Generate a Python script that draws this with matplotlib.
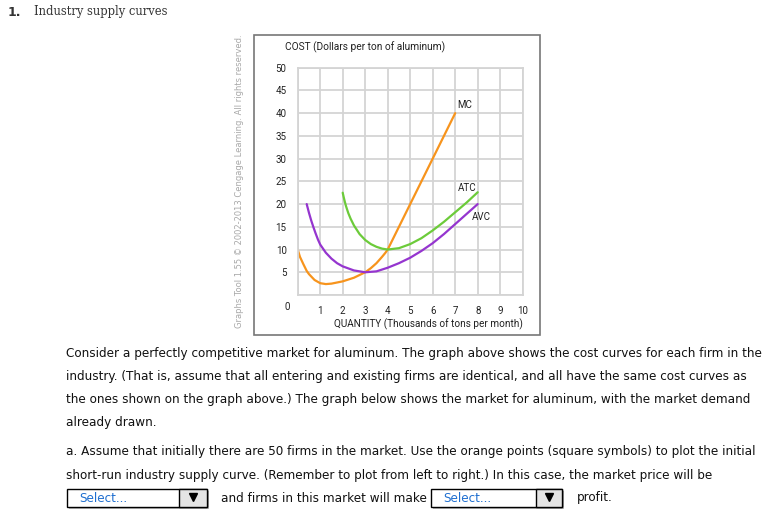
import matplotlib.pyplot as plt
from matplotlib.patches import Rectangle

W, H = 773, 532

# cost curves (quantity in thousands of tons, cost in dollars)
mc_q = [0, 0.1, 0.25, 0.4, 0.5, 0.75, 1, 1.25, 1.5, 2, 2.5, 3, 3.25, 3.5, 3.75, 3.9, 4, 4.5, 5, 6, 7]
mc_c = [10, 8.4, 6.8, 5.3, 4.6, 3.3, 2.6, 2.4, 2.5, 3.0, 3.8, 5.0, 5.9, 7.0, 8.4, 9.3, 10, 15, 20, 30, 40]

atc_q = [2, 2.05, 2.1, 2.15, 2.25, 2.35, 2.5, 2.75, 3, 3.25, 3.5, 3.75, 4, 4.5, 5, 5.5, 6, 6.5, 7, 7.5, 8]
atc_c = [22.5, 21.4, 20.4, 19.5, 18, 16.8, 15.3, 13.4, 12.1, 11.2, 10.6, 10.2, 10, 10.3, 11.2, 12.5, 14.2,
         16.1, 18.2, 20.3, 22.6]

avc_q = [0.4, 0.5, 0.6, 0.7, 0.8, 0.9, 1, 1.25, 1.5, 1.75, 2, 2.5, 3, 3.5, 4, 4.5, 5, 5.5, 6, 6.5, 7, 7.5, 8]
avc_c = [20, 18.1, 16.4, 14.9, 13.5, 12.2, 11.1, 9.3, 8, 7, 6.3, 5.4, 5, 5.2, 6, 7, 8.2, 9.7, 11.4, 13.4,
         15.6, 17.8, 20]

x_ticks = [1, 2, 3, 4, 5, 6, 7, 8, 9, 10]
y_ticks = [5, 10, 15, 20, 25, 30, 35, 40, 45, 50]

body_lines = [
    "Consider a perfectly competitive market for aluminum. The graph above shows the cost curves for each firm in the",
    "industry. (That is, assume that all entering and existing firms are identical, and all have the same cost curves as",
    "the ones shown on the graph above.) The graph below shows the market for aluminum, with the market demand",
    "already drawn.",
]
part_a_lines = [
    "a. Assume that initially there are 50 firms in the market. Use the orange points (square symbols) to plot the initial",
    "short-run industry supply curve. (Remember to plot from left to right.) In this case, the market price will be",
]

ORANGE = '#F7941D'
GREEN = '#6CCB3A'
PURPLE = '#9535CF'
GRID = '#D4D4D4'
TEXT = '#333333'
FS = 8.62

fig = plt.figure(figsize=(W / 100, H / 100), dpi=100)

# page layer in pixel coordinates
page = fig.add_axes([0, 0, 1, 1])
page.set_xlim(0, W)
page.set_ylim(H, 0)
page.axis('off')

page.text(8, 12, "1.", fontsize=9, fontweight='bold', family='DejaVu Sans', color=TEXT, va='center')
page.text(34, 12, "Industry supply curves", fontsize=8.3, family='DejaVu Serif', color=TEXT, va='center')

# frame around the graph
page.add_patch(Rectangle((254, 35), 286, 300, fill=False, edgecolor='#777777', linewidth=1.2))
page.text(240, 181, "Graphs Tool 1.55 \u00a9 2002-2013 Cengage Learning. All rights reserved.",
          rotation=90, fontsize=6.0, color='#A8A8A8', ha='center', va='center', family='DejaVu Sans')

page.text(285, 47, "COST (Dollars per ton of aluminum)", fontsize=7.3, family='Roboto', color='#222222', va='center')
page.text(523, 324, "QUANTITY (Thousands of tons per month)", fontsize=7.2, family='Roboto', color='#222222',
          va='center', ha='right')
page.text(287, 307, "0", fontsize=7, family='Roboto', color='#222222', va='center', ha='center')

for i, line in enumerate(body_lines):
    page.text(66, 354 + i * 22.7, line, fontsize=FS, family='DejaVu Sans', color='#111111', va='center')
for i, line in enumerate(part_a_lines):
    page.text(66, 452 + i * 23, line, fontsize=FS, family='DejaVu Sans', color='#111111', va='center')


def select_box(x0, x1, xd):
    page.add_patch(Rectangle((x0 + 2, 491), x1 - x0, 18, color='#BBBBBB', linewidth=0))
    page.add_patch(Rectangle((x0, 489), x1 - x0, 18, facecolor='white', edgecolor='black', linewidth=1))
    page.add_patch(Rectangle((xd, 489), x1 - xd, 18, facecolor='#E4E4E4', edgecolor='black', linewidth=1))
    page.plot([(xd + x1) / 2], [497], marker='v', color='black', markersize=6)
    page.text(x0 + 12, 498, "Select...", fontsize=FS, family='DejaVu Sans', color='#1F6FD0', va='center')


select_box(67, 207, 179)
select_box(431, 562, 536)
page.text(221, 498, "and firms in this market will make", fontsize=FS, family='DejaVu Sans',
          color='#111111', va='center')
page.text(577, 498, "profit.", fontsize=FS, family='DejaVu Sans', color='#111111', va='center')

# cost curve graph
left, right, top, bottom = 297.7, 522.7, 67.7, 295
ax = fig.add_axes([left / W, (H - bottom) / H, (right - left) / W, (bottom - top) / H])
ax.set_xlim(0, 10)
ax.set_ylim(0, 50)
ax.set_xticks([0] + x_ticks)
ax.set_xticklabels([''] + [str(t) for t in x_ticks])
ax.set_yticks([0] + y_ticks)
ax.set_yticklabels([''] + [str(t) for t in y_ticks])
ax.tick_params(length=0, labelsize=7, colors='#222222', pad=8)
for lab in ax.get_xticklabels() + ax.get_yticklabels():
    lab.set_family('Roboto')
ax.grid(True, color=GRID, linewidth=1.3)
for s in ax.spines.values():
    s.set_color(GRID)
    s.set_linewidth(1.3)
ax.patch.set_alpha(0)

ax.plot(mc_q, mc_c, color=ORANGE, linewidth=1.6, solid_capstyle='round', solid_joinstyle='round')
ax.plot(atc_q, atc_c, color=GREEN, linewidth=1.6, solid_capstyle='round', solid_joinstyle='round')
ax.plot(avc_q, avc_c, color=PURPLE, linewidth=1.6, solid_capstyle='round', solid_joinstyle='round')

ax.text(7.1, 41.8, "MC", fontsize=7, family='Roboto', color='#222222', va='center')
ax.text(7.13, 23.6, "ATC", fontsize=7, family='Roboto', color='#222222', va='center')
ax.text(7.73, 17.1, "AVC", fontsize=7, family='Roboto', color='#222222', va='center')

fig.savefig('out.png', dpi=100)
